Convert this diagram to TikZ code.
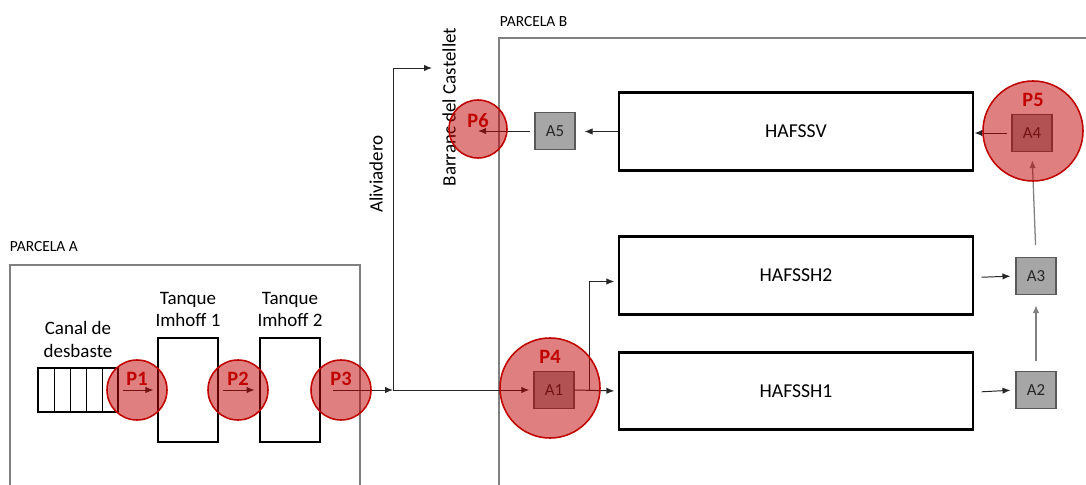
\documentclass[tikz,border=0pt]{standalone}
\usepackage{fontspec}
\setmainfont{Carlito}
\usetikzlibrary{arrows.meta,positioning}
\definecolor{pointred}{HTML}{C00000}
\definecolor{boxgray}{HTML}{A6A6A6}
\definecolor{edgegray}{HTML}{595959}
\definecolor{linegray}{HTML}{808080}
\definecolor{inkdark}{HTML}{262626}

\begin{document}
\begin{tikzpicture}[
    x=0.025cm,
    y=-0.025cm,
    >=Latex,
    font=\fontsize{13.5}{16}\selectfont,
    tank/.style={
        draw=black,
        line width=2pt,
        minimum width=1.5cm,
        minimum height=2.6cm,
        inner sep=0pt
    },
    unit/.style={
        draw=black,
        line width=2pt,
        minimum width=8.85cm,
        minimum height=1.93cm,
        font=\fontsize{14}{16}\selectfont
    },
    sample/.style={
        draw=edgegray,
        fill=boxgray,
        line width=1pt,
        minimum width=1.0cm,
        minimum height=0.92cm,
        inner sep=0pt,
        text=inkdark,
        font=\fontsize{12}{14}\selectfont
    },
    point/.style={
        circle,
        draw=pointred,
        fill=pointred,
        fill opacity=0.5,
        line width=1.1pt,
        inner sep=0pt
    },
    ptext/.style={
        text=pointred,
        font=\bfseries\fontsize{14.5}{16}\selectfont
    },
    plot/.style={draw=linegray, line width=0.8pt},
    flow/.style={-{Latex[length=2mm,width=1.6mm]}, inkdark, line width=0.7pt},
    lift/.style={-{Latex[length=2mm,width=1.6mm]}, linegray, line width=0.9pt}
]
\useasboundingbox (0,0) rectangle (1086,485);

% Plots
\draw[plot] (10,485) -- (10,265) -- (360,265) -- (360,485);
\draw[plot] (499,485) -- (499,38) -- (1086,38);
\node[anchor=west, font=\fontsize{11}{13}\selectfont] (lpara) at (5,247) {PARCELA A};
\node[anchor=west, font=\fontsize{11}{13}\selectfont] (lparb) at (495,22) {PARCELA B};

% Pretreatment line
\node[draw=black, line width=2pt, minimum width=2cm, minimum height=1.1cm, inner sep=0pt] (canal) at (78,390) {};
\foreach \x in {54,70,86,102} {
    \draw[line width=0.6pt] (\x,368) -- (\x,412);
}
\node[tank] (imh1) at (188,390) {};
\node[tank] (imh2) at (290,390) {};
\node[align=center, above=0.1cm of canal] (lcanal) {Canal de\\desbaste};
\node[align=center, above=0.12cm of imh1] (limh1) {Tanque\\Imhoff 1};
\node[align=center, above=0.12cm of imh2] (limh2) {Tanque\\Imhoff 2};

% Overflow
\coordinate (junc) at (393,390);
\coordinate (outlet) at (432,68);
\coordinate (p6c) at (478,129);
\node[rotate=90] (lali) at (376,174) {Aliviadero};
\node[rotate=90] (lbarr) at (449,107) {Barranc del Castellet};

% Wetlands
\node[unit] (hv) at (796,131.5) {HAFSSV};
\node[unit] (h2) at (796,275.5) {HAFSSH2};
\node[unit] (h1) at (796,391) {HAFSSH1};

% Sampling boxes
\node[sample] (a1) at (554,390) {A1};
\node[sample] (a2) at (1036,390) {A2};
\node[sample] (a3) at (1036,276) {A3};
\node[sample] (a4) at (1032,133) {A4};
\node[sample] (a5) at (555,131) {A5};
\coordinate (split) at (589,390);

% Flows
\draw[flow, shorten <=0.1cm, shorten >=0.08cm] (canal.east) -- (imh1.west);
\draw[flow, shorten <=0.1cm, shorten >=0.1cm] (imh1.east) -- (imh2.west);
\draw[flow, shorten <=0.3cm] (imh2.east) -- (junc);
\draw[flow] (junc) |- (outlet);
\draw[flow, shorten >=0.1cm] (junc) -- (a1.west);
\draw[flow, shorten >=0.08cm] (a1.east) -- (h1.west);
\draw[flow, shorten >=0.08cm] (split) |- ([yshift=-0.15cm]h2.west);
\draw[flow, shorten <=0.18cm, shorten >=0.12cm] ([yshift=-0.03cm]h1.east) -- (a2.west);
\draw[flow, shorten <=0.18cm, shorten >=0.12cm] ([yshift=-0.05cm]h2.east) -- (a3.west);
\draw[lift, shorten <=0.25cm, shorten >=0.25cm] (a2.north) -- (a3.south);
\draw[lift, shorten <=0.3cm, shorten >=0.2cm] (a3.north) -- (a4.south);
\draw[flow, shorten <=0.1cm] (a4.west) -- (a4.west -| hv.east);
\draw[flow, shorten >=0.22cm] (hv.west) -- (hv.west -| a5.east);
\draw[flow, shorten <=0.1cm] (a5.west) -- (a5.west -| p6c);

% Sampling points
\node[point, minimum size=1.5cm] (p1) at (137,390) {};
\node[point, minimum size=1.5cm] (p2) at (238,390) {};
\node[point, minimum size=1.5cm] (p3) at (341,390) {};
\node[point, minimum size=2.5cm] (p4) at (550,388) {};
\node[point, minimum size=2.5cm] (p5) at (1033,131) {};
\node[point, minimum size=1.45cm] (p6) at (p6c) {};

\node[ptext] (lp1) at ([yshift=0.28cm]p1.center) {P1};
\node[ptext] (lp2) at ([yshift=0.28cm]p2.center) {P2};
\node[ptext] (lp3) at ([yshift=0.28cm]p3.center) {P3};
\node[ptext] (lp4) at ([yshift=0.78cm]p4.center) {P4};
\node[ptext] (lp5) at ([yshift=0.78cm]p5.center) {P5};
\node[ptext] (lp6) at ([yshift=0.22cm]p6.center) {P6};

\end{tikzpicture}
\end{document}
